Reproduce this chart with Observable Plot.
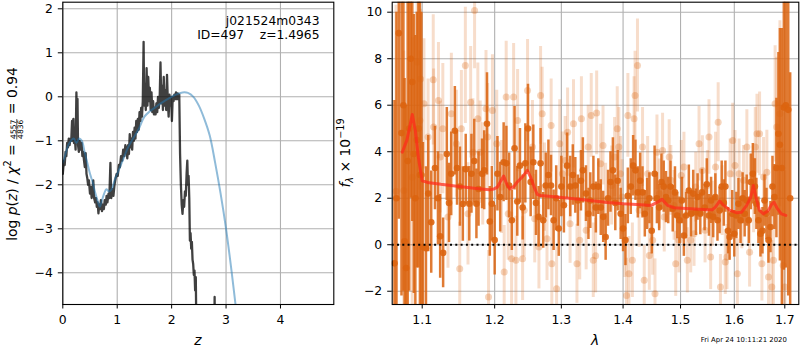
<!DOCTYPE html>
<html><head><meta charset="utf-8">
<script src="https://cdn.jsdelivr.net/npm/d3@7"></script>
<script src="https://cdn.jsdelivr.net/npm/@observablehq/plot@0.6"></script>
<style>
body{margin:0;background:#fff;}
#wrap{position:relative;width:800px;height:350px;overflow:hidden;font-family:"DejaVu Sans";background:#fff;}
#left,#right,#ov{position:absolute;top:0;}
#left{left:0;width:340px;height:350px;} #right{left:340px;width:460px;height:350px;} #ov{left:0;pointer-events:none;}
</style></head><body>
<div id="wrap"><div id="left"></div><div id="right"></div><svg id="ov" width="800" height="350"></svg></div>
<script>
// ---------- left panel: log p(z) ----------
const zPz = [0.000,0.020,0.035,0.050,0.065,0.080,0.095,0.110,0.125,0.140,0.155,0.170,0.180,0.195,0.205,0.220,0.235,0.250,0.260,0.270,0.280,0.295,0.310,0.330,0.345,0.360,0.375,0.390,0.405,0.420,0.435,0.450,0.465,0.480,0.500,0.515,0.530,0.545,0.560,0.575,0.595,0.610,0.625,0.640,0.655,0.670,0.685,0.700,0.720,0.735,0.755,0.770,0.790,0.805,0.820,0.840,0.855,0.875,0.890,0.910,0.930,0.950,0.970,0.990,1.010,1.030,1.050,1.070,1.090,1.110,1.130,1.150,1.170,1.185,1.200,1.215,1.230,1.245,1.260,1.275,1.290,1.305,1.320,1.335,1.350,1.365,1.380,1.395,1.410,1.425,1.440,1.455,1.470,1.485,1.495,1.510,1.525,1.540,1.555,1.570,1.585,1.600,1.615,1.630,1.645,1.660,1.675,1.690,1.705,1.720,1.735,1.750,1.765,1.780,1.795,1.810,1.825,1.840,1.855,1.870,1.885,1.900,1.915,1.930,1.945,1.960,1.975,1.990,2.005,2.020,2.035,2.050,2.065,2.080,2.095,2.110,2.125,2.140,2.155,2.170,2.185,2.200,2.215,2.230,2.245,2.260,2.275,2.288,2.300,2.312,2.324,2.336,2.348,2.360,2.372,2.384,2.396,2.408,2.420,2.432,2.444,2.456,2.600,2.780,2.790,2.800,3.000];
const logPz = [-1.75,-1.45,-1.55,-1.25,-1.35,-1.05,-1.15,-0.95,-1.1,-0.95,-1.0,-0.55,-1.0,-0.5,-1.05,-0.9,-1.2,0.1,-0.6,-0.05,-1.1,-1.25,-1.0,-1.2,-1.05,-1.35,-1.25,-1.45,-1.6,-1.28,-1.75,-1.85,-2.0,-1.9,-2.2,-2.05,-2.3,-2.1,-1.9,-2.3,-2.4,-2.3,-2.5,-2.4,-2.65,-2.45,-2.55,-2.35,-2.6,-2.45,-2.55,-2.35,-2.45,-2.25,-2.4,-2.2,-2.3,-1.5,-2.3,-2.1,-2.25,-2.0,-1.85,-1.75,-1.8,-1.55,-1.6,-1.35,-1.45,-1.2,-1.35,-1.1,-1.2,-1.4,-1.1,-1.3,-0.85,-1.15,-0.95,-1.2,-0.8,-1.0,-0.7,-0.95,-0.55,-0.8,-0.5,-0.75,-0.35,-0.55,-0.25,-0.45,-0.1,1.25,-0.2,0.3,-0.3,0.65,-0.2,0.45,-0.1,0.2,-0.3,0.1,-0.35,-0.1,-0.4,-0.25,-0.4,-0.15,-0.35,0.0,-0.25,-0.05,0.78,-0.15,0.25,-0.3,0.45,-0.2,0.15,-0.3,0.5,-0.1,-0.45,0.05,-0.2,0.0,-0.55,0.0,-0.1,0.05,-0.05,0.1,-0.05,0.08,-0.05,0.05,-1.3,-2.0,-2.45,-2.66,-2.35,-2.5,-2.15,-2.25,-1.75,-1.45,-2.0,-1.8,-2.3,-3.27,-3.1,-3.45,-3.3,-3.7,-3.8,-4.05,-3.95,-4.4,-4.1,-5.5,-7,-6,-4.55,-6,-8];
const zFit = [0,0.05,0.1,0.15,0.2,0.25,0.3,0.35,0.4,0.45,0.5,0.55,0.6,0.65,0.68,0.72,0.76,0.8,0.85,0.9,0.95,1.0,1.1,1.2,1.3,1.4,1.5,1.6,1.7,1.8,1.9,2.0,2.1,2.2,2.3,2.4,2.5,2.6,2.7,2.8,2.9,3.0,3.1,3.2];
const logFit = [-1.5,-1.3,-1.1,-1.0,-0.95,-1.05,-0.95,-1.0,-1.25,-1.5,-1.75,-1.95,-2.2,-2.4,-2.5,-2.35,-2.2,-2.1,-2.15,-2.1,-1.9,-1.75,-1.45,-1.15,-0.93,-0.72,-0.45,-0.33,-0.24,-0.15,-0.07,0.0,0.06,0.1,0.09,0.0,-0.2,-0.5,-0.88,-1.5,-2.2,-3.0,-3.95,-5.0];
const zTicks = [0,1,2,3,4];
const pTicks = [-4,-3,-2,-1,0,1,2];

// ---------- right panel: spectrum ----------
const lamD = [1.064,1.0665,1.0695,1.073,1.0755,1.077,1.079,1.081,1.083,1.085,1.087,1.089,1.091,1.093,1.095,1.097,1.099,1.101,1.105,
1.108,1.112,1.117,1.121,1.124,1.128,1.133,1.136,1.139,1.144,1.147,1.151,1.155,1.159,1.164,1.167,1.171,1.174,1.177,1.182,1.185,1.189,1.193,1.196,
1.200,1.204,1.208,1.213,1.217,1.221,1.225,1.229,1.233,1.237,1.241,1.245,1.249,1.253,1.257,1.261,1.265,1.268,1.272,1.276,1.280,1.284,1.288,1.292,1.296,
1.300,1.304,1.309,1.314,1.318,1.322,1.326,1.331,1.334,1.339,1.343,1.346,1.351,1.355,1.359,1.363,1.367,1.371,1.375,1.379,1.383,1.387,1.391,1.396,
1.400,1.404,1.408,1.413,1.417,1.421,1.425,1.429,1.433,1.437,1.441,1.445,1.449,1.454,1.458,1.462,1.466,1.470,1.474,1.478,1.482,1.486,1.490,1.494,1.498,
1.5025,1.506,1.510,1.515,1.519,1.523,1.528,1.531,1.536,1.539,1.544,1.548,1.552,1.556,1.560,1.564,1.568,1.572,1.576,1.580,1.583,1.588,1.591,1.596,
1.600,1.604,1.608,1.612,1.616,1.620,1.624,1.628,1.632,1.636,1.640,1.643,1.647,1.651,1.655,1.659,1.663,1.667,1.671,1.675,1.679,1.683,1.687,1.690,1.694,1.698,1.702,1.707,1.711];
const fluxD = [-0.8,2.0,9.1,4.8,6.0,0.15,-1.0,3.6,5.0,8.0,7.0,3.9,2.0,4.5,5.0,3.0,3.0,-0.1,-0.15,
2.2,0.97,3.3,2.0,0.36,-0.35,3.9,1.8,3.05,4.9,3.3,2.5,1.75,3.25,1.76,3.05,3.6,1.76,2.4,3.05,3.2,5.2,1.0,1.76,
0.2,3.05,2.05,3.55,3.5,2.55,1.05,4.15,1.86,3.4,1.6,3.5,5.0,2.7,3.55,1.8,1.2,3.5,1.05,2.55,3.0,2.55,1.05,2.0,0.7,
2.5,1.7,3.4,2.5,3.0,2.55,1.9,2.75,3.2,2.2,1.33,1.9,2.5,1.6,2.5,1.6,1.2,0.33,2.0,2.7,3.2,1.8,2.75,1.33,
0.7,0.2,2.1,2.5,3.4,3.2,2.25,2.75,2.25,1.33,1.76,2.0,0.6,3.05,2.0,1.6,2.7,2.5,2.05,1.9,2.5,1.55,2.25,1.26,1.05,
1.9,0.4,1.26,2.33,1.33,2.2,1.4,2.05,1.33,2.25,1.6,2.6,1.26,1.9,1.2,2.05,1.05,1.47,2.5,1.8,2.5,0.6,0.33,1.33,
0.47,1.26,1.76,1.05,2.0,1.33,1.9,1.05,2.7,3.05,2.5,1.76,1.05,0.47,0.6,1.9,1.33,0.2,0.76,2.5,2.05,3.3,4.77,4.3,3.3,5.9,6.0,5.8,2.0];
const errD = [7,8,8,7,8,7,7,7,7,6,6,6,7,5.5,6,7.5,7,4.5,3.5,
2.5,2.2,1.8,2.0,1.8,1.5,2.0,1.7,1.8,1.9,1.6,1.7,1.6,1.5,1.6,1.7,1.8,1.5,1.6,1.5,1.7,2.2,1.5,1.6,
1.5,1.6,1.5,1.7,1.6,1.4,1.3,1.8,1.5,1.6,1.4,1.7,1.9,1.5,1.6,1.4,1.3,1.5,1.2,1.4,1.5,1.3,1.3,1.4,1.2,
1.3,1.2,1.4,1.3,1.3,1.2,1.1,1.3,1.4,1.2,1.1,1.2,1.3,1.1,1.2,1.2,1.1,1.0,1.2,1.3,1.4,1.2,1.3,1.1,
1.0,1.1,1.2,1.2,1.3,1.3,1.1,1.2,1.1,1.0,1.1,1.1,1.0,1.2,1.1,1.0,1.2,1.1,1.1,1.0,1.1,1.0,1.1,1.0,1.0,
1.0,0.9,1.0,1.1,1.0,1.0,1.0,1.0,0.9,1.0,1.0,1.1,0.9,1.0,0.9,1.0,0.9,1.0,1.1,1.0,1.1,1.0,1.0,1.0,
1.0,1.0,1.1,1.0,1.1,1.0,1.1,1.0,1.2,1.3,1.2,1.1,1.0,1.0,1.0,1.1,1.1,1.0,1.1,1.3,1.4,3.0,3.5,5.0,6.0,7.0,7.0,8.0,5.4];

const lamL = [1.066,1.076,1.087,1.0934,1.097,1.0978,1.1023,1.1078,1.1147,1.1152,1.1217,1.124,1.1276,1.1346,1.1392,1.1461,1.1507,1.153,1.1585,1.1622,1.1659,1.1691,1.1714,1.176,1.1793,1.1829,1.1876,1.1899,1.1912,1.1968,
1.203,1.2099,1.2138,1.2167,1.2197,1.2246,1.2276,1.231,1.2335,1.2409,1.2433,1.2483,1.2557,1.2591,1.2655,1.268,1.2704,1.2739,1.2778,1.2842,1.2852,1.2926,1.2975,
1.3016,1.306,1.3098,1.3137,1.3191,1.3246,1.329,1.3317,1.3393,1.3426,1.3475,1.3508,1.3546,1.3563,1.3628,1.3667,1.371,1.3809,1.3858,1.3902,1.3929,1.3956,1.3984,
1.4029,1.4058,1.4081,1.4099,1.4157,1.4186,1.4203,1.4244,1.4273,1.4331,1.436,1.4419,1.4448,1.4506,1.4547,1.4581,1.4622,1.468,1.4709,1.4797,1.4826,1.4884,1.4913,1.4971,
1.5012,1.5061,1.5123,1.5184,1.5245,1.5276,1.5337,1.5399,1.5448,1.5491,1.5521,1.5552,1.5583,1.5644,1.5693,1.5736,1.5767,1.5828,1.5859,1.592,1.5969,
1.6013,1.6059,1.6092,1.6145,1.6178,1.6243,1.6296,1.6375,1.6408,1.6441,1.6493,1.6539,1.6572,1.6638,1.6671,1.6737,1.677,1.6803,1.6836,1.6901,1.6967,1.7];
const fluxL = [2.3,2.33,2.9,7.85,5.34,7.13,6.06,4.63,7.09,5.06,6.2,3.77,4.99,1.19,5.63,4.34,-1.03,4.99,7.71,1.33,6.13,3.98,10.07,5.42,3.98,3.05,5.85,4.63,-2.25,5.77,
4.34,2.48,-1.17,6.35,1.33,-0.6,6.35,-0.67,5.34,-0.6,1.48,6.63,4.2,1.12,-0.1,6.42,5.63,2.48,0.26,5.13,-0.82,-1.89,4.34,
3.05,3.62,4.84,0.9,5.2,-0.82,0.19,5.42,0.62,4.2,5.56,-0.67,-0.47,5.67,3.48,4.27,1.9,2.55,3.77,4.99,4.2,3.05,2.05,
0.19,-2.18,5.56,-1.25,-0.67,5.42,6.42,7.71,1.48,4.2,-1.53,3.05,-0.46,0.19,-2.11,3.98,2.19,4.05,1.19,3.77,2.77,1.69,-0.82,0.19,
2.98,3.34,-0.67,0.19,0.47,2.48,4.34,3.19,0.62,2.55,4.63,-0.53,1.33,3.34,5.27,-1.82,1.9,-0.74,-0.53,3.05,4.48,
3.41,-1.25,3.05,1.33,2.77,4.2,-0.32,2.12,4.2,4.77,4.77,-0.82,2.91,3.12,-1.39,-1.82,-0.67,6.06,5.06,5.63,-0.89,-1.82];
const errL = [8,6,6,3,3,3,2.8,2.5,2.8,2.5,2.5,2.4,2.8,2.2,2.6,2.3,2.0,2.5,2.5,2.2,2.4,2.3,2.5,2.4,2.2,2.2,2.5,2.3,2.0,2.4,
2.3,2.0,2.0,2.4,2.0,2.0,2.3,1.9,2.2,1.8,2.0,2.2,2.0,1.9,1.8,2.1,2.0,1.9,1.8,2.0,1.8,1.8,1.9,
1.8,1.9,1.9,1.7,1.9,1.7,1.7,1.8,1.7,1.8,1.8,1.6,1.6,1.8,1.7,1.7,1.6,1.7,1.7,1.8,1.7,1.6,1.6,
1.6,1.6,1.8,1.6,1.6,1.8,1.9,2.0,1.6,1.7,1.5,1.6,1.5,1.5,1.5,1.6,1.5,1.6,1.5,1.6,1.5,1.5,1.4,1.4,
1.5,1.5,1.4,1.4,1.4,1.5,1.6,1.5,1.4,1.5,1.6,1.4,1.4,1.5,1.7,1.4,1.5,1.4,1.4,1.5,1.6,
1.5,1.5,1.5,1.5,1.5,1.6,1.5,1.6,1.7,1.7,1.8,1.6,1.7,1.8,1.8,2.0,2.2,2.5,3.0,4.0,5.0,5.0];

const lamM = [1.074,1.080,1.087,1.091,1.095,1.100,1.107,1.125,1.147,1.171,1.192,1.199,1.204,1.208,1.213,1.218,1.222,1.228,1.233,1.240,1.248,1.253,1.258,1.263,1.268,1.293,1.320,1.346,1.374,1.401,1.430,1.448,1.459,1.467,1.477,1.488,1.518,1.549,1.558,1.564,1.572,1.580,1.592,1.604,1.614,1.624,1.632,1.637,1.642,1.649,1.657,1.666,1.674,1.678,1.685,1.693,1.702];
const fluxM = [3.98,4.5,5.6,4.9,3.75,2.75,2.68,2.6,2.52,2.43,2.36,2.4,2.48,2.7,2.95,2.58,2.4,2.5,2.7,2.9,3.2,2.9,2.5,2.16,2.12,2.05,1.98,1.9,1.82,1.76,1.72,1.69,1.83,1.95,1.69,1.59,1.55,1.5,1.5,1.62,1.88,1.69,1.48,1.38,1.4,1.69,2.05,2.55,2.05,1.48,1.33,1.45,1.76,1.83,1.55,1.33,1.26];
const lamTicks = [1.1,1.2,1.3,1.4,1.5,1.6,1.7];
const fTicks = [-2,0,2,4,6,8,10];

// ---------- build ----------
const FONT = "DejaVu Sans";
const GRID = "#b0b0b0";
const ORANGE = "#db6410";
const fmtNum = d => (d < 0 ? "\u2212" + Math.abs(d) : String(d));

const pzData = zPz.map((z, i) => ({z, v: logPz[i]}));
const fitData = zFit.map((z, i) => ({z, v: logFit[i]}));
const darkData = lamD.map((l, i) => ({lam: l, f: fluxD[i], e: errD[i]}));
const lightData = lamL.map((l, i) => ({lam: l, f: fluxL[i], e: errL[i]}));
const modelData = lamM.map((l, i) => ({lam: l, f: fluxM[i]}));

const common = {fontFamily: FONT, fontSize: "12.4px", background: "white", color: "black", overflow: "visible"};

const leftPlot = Plot.plot({
  width: 340, height: 350,
  marginLeft: 62.3, marginRight: 6.7, marginTop: 1.7, marginBottom: 46,
  style: common,
  x: {domain: [0, 4.98]},
  y: {domain: [-4.72, 2.15]},
  marks: [
    Plot.gridX(zTicks, {stroke: GRID, strokeOpacity: 1, strokeWidth: 1.1}),
    Plot.gridY(pTicks, {stroke: GRID, strokeOpacity: 1, strokeWidth: 1.1}),
    Plot.line(pzData, {x: "z", y: "v", stroke: "black", strokeOpacity: 0.75, strokeWidth: 2.3, clip: true}),
    Plot.line(fitData, {x: "z", y: "v", stroke: "#1f77b4", strokeOpacity: 0.5, strokeWidth: 2, curve: "catmull-rom", clip: true}),
    Plot.axisX(zTicks, {tickSize: 4.5, tickPadding: 6, tickFormat: fmtNum, label: null}),
    Plot.axisY(pTicks, {tickSize: 4.5, tickPadding: 5.5, tickFormat: fmtNum, label: null}),
    Plot.frame({stroke: "black", strokeWidth: 1.1})
  ]
});
document.getElementById("left").append(leftPlot);

const rightPlot = Plot.plot({
  width: 460, height: 350,
  marginLeft: 51.7, marginRight: 1.7, marginTop: 1.7, marginBottom: 46,
  style: common,
  x: {type: "log", domain: [1.0611, 1.7288]},
  y: {domain: [-2.57, 10.43]},
  marks: [
    Plot.gridX(lamTicks, {stroke: GRID, strokeOpacity: 1, strokeWidth: 1.1}),
    Plot.gridY(fTicks, {stroke: GRID, strokeOpacity: 1, strokeWidth: 1.1}),
    Plot.ruleX(lightData, {x: "lam", y1: d => d.f - d.e, y2: d => d.f + d.e, stroke: ORANGE, strokeOpacity: 0.22, strokeWidth: 3, clip: true}),
    Plot.dot(lightData, {x: "lam", y: "f", r: 3.5, fill: ORANGE, fillOpacity: 0.28, stroke: "none", clip: true}),
    Plot.ruleX(darkData, {x: "lam", y1: d => d.f - d.e, y2: d => d.f + d.e, stroke: ORANGE, strokeOpacity: 0.85, strokeWidth: 2.5, clip: true}),
    Plot.dot(darkData, {x: "lam", y: "f", r: 3.3, fill: ORANGE, fillOpacity: 0.9, stroke: "none", clip: true}),
    Plot.line(modelData, {x: "lam", y: "f", stroke: "#ff2a1a", strokeOpacity: 0.72, strokeWidth: 3, clip: true}),
    Plot.ruleY([0], {stroke: "black", strokeWidth: 2, strokeDasharray: "2,3.3"}),
    Plot.axisX(lamTicks, {tickSize: 4.5, tickPadding: 6, tickFormat: d => d.toFixed(1), label: null}),
    Plot.axisY(fTicks, {tickSize: 4.5, tickPadding: 5.5, tickFormat: fmtNum, label: null}),
    Plot.frame({stroke: "black", strokeWidth: 1.1})
  ]
});
document.getElementById("right").append(rightPlot);

// ---------- text overlay ----------
const ov = d3.select("#ov");
const LF = 13.9;
function addText(g, x, y, str, o = {}) {
  const t = g.append("text").attr("x", x).attr("y", y).text(str)
    .attr("font-family", FONT).attr("font-size", o.size || LF)
    .attr("font-style", o.italic ? "italic" : "normal")
    .attr("text-anchor", o.anchor || "start").attr("fill", "black")
    .style("white-space", "pre");
  return t;
}
function sequence(parent, pieces) {
  const g = parent.append("g");
  let x = 0;
  for (const p of pieces) {
    if (p.num) {
      const a = addText(g, 0, p.ny, p.num, {size: p.size});
      const b = addText(g, 0, p.dy2, p.den, {size: p.size});
      const wa = a.node().getComputedTextLength(), wb = b.node().getComputedTextLength();
      const w = Math.max(wa, wb);
      a.attr("x", x + 1 + (w - wa) / 2);
      b.attr("x", x + 1 + (w - wb) / 2);
      g.append("line").attr("x1", x + 0.5).attr("x2", x + w + 1.5).attr("y1", p.by).attr("y2", p.by)
        .attr("stroke", "black").attr("stroke-width", 0.7);
      x += w + 2;
    } else {
      const t = addText(g, x, p.dy || 0, p.t, {size: p.size, italic: p.italic});
      x += t.node().getComputedTextLength();
    }
  }
  g.attr("transform", `translate(${-x / 2},0)`);
  return g;
}
// left y label
const gl = ov.append("g").attr("transform", "translate(16.5,154) rotate(-90)");
sequence(gl, [
  {t: "log "}, {t: "p", italic: true}, {t: "("}, {t: "z", italic: true}, {t: ") / "},
  {t: "\u03c7", italic: true}, {t: "2", size: 9.7, dy: -5.5}, {t: " = "},
  {num: "4557", den: "4836", size: 7.6, ny: -1, dy2: 6.4, by: 0.3},
  {t: " = 0.94"}
]);
// right y label
const gr = ov.append("g").attr("transform", "translate(350,153) rotate(-90)");
sequence(gr, [
  {t: "f", italic: true}, {t: "\u03bb", italic: true, size: 9.7, dy: 2.8},
  {t: " \u00d7 10"}, {t: "\u221219", size: 9.7, dy: -5.6}
]);
// x labels
addText(ov, 197.8, 344.5, "z", {italic: true, anchor: "middle"});
addText(ov, 595, 344.5, "\u03bb", {italic: true, anchor: "middle"});
// annotation
addText(ov, 319.5, 24.5, "j021524m0343", {size: 12.3, anchor: "end"});
addText(ov, 319.5, 38.8, "ID=497    z=1.4965", {size: 12.3, anchor: "end"});
// timestamp
addText(ov, 700.7, 342, "Fri Apr 24 10:11:21 2020", {size: 6.9});
</script></body></html>
